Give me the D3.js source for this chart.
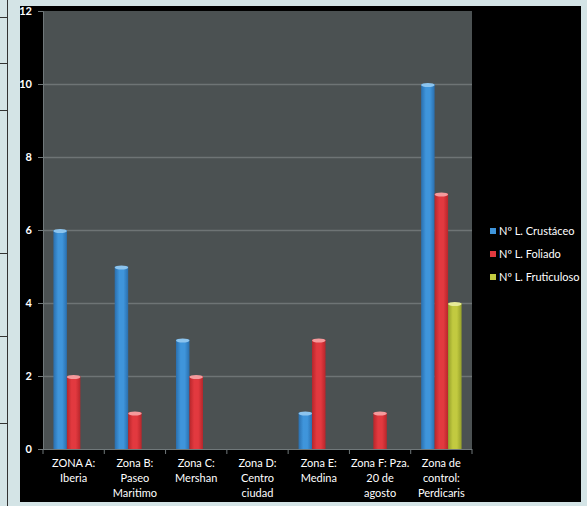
<!DOCTYPE html>
<html>
<head>
<meta charset="utf-8">
<script src="https://cdn.jsdelivr.net/npm/d3@7"></script>
<style>
  html, body { margin: 0; padding: 0; background: #d4e4e6; }
  svg { display: block; }
</style>
</head>
<body>
<script>
// chart data
let categories = ['A', 'B', 'C', 'D', 'E', 'F', 'Control']
let tickLabels = [
  ['ZONA A:', 'Iberia'],
  ['Zona B:', 'Paseo', 'Maritimo'],
  ['Zona C:', 'Mershan'],
  ['Zona D:', 'Centro', 'ciudad'],
  ['Zona E:', 'Medina'],
  ['Zona F: Pza.', '20 de', 'agosto'],
  ['Zona de', 'control:', 'Perdicaris']
]
let seriesNames = ['Nº L. Crustáceo', 'Nº L. Foliado', 'Nº L. Fruticuloso']
let crustaceo = [6, 5, 3, 0, 1, 0, 10]
let foliado = [2, 1, 2, 0, 3, 1, 7]
let fruticuloso = [0, 0, 0, 0, 0, 0, 4]
let yTicks = [0, 2, 4, 6, 8, 10, 12]

let colors = [
  {dark: '#2a6fae', mid: '#3f95db', light: '#8cc4ee'},
  {dark: '#b7262b', mid: '#e2393f', light: '#f59a9c'},
  {dark: '#96a02a', mid: '#c2ca40', light: '#e6eb98'}
]

let width = 587
let height = 506
let plot = {left: 43, right: 472, top: 11, bottom: 449}
let font = 'Lato, "Open Sans", sans-serif'

let svg = d3.select('body')
  .append('svg')
  .attr('width', width)
  .attr('height', height)

// table border bits on the left
svg.append('line')
  .attr('x1', 7.5).attr('x2', 7.5).attr('y1', 0).attr('y2', height)
  .attr('stroke', '#333').attr('stroke-width', 1)
;[17, 63, 110, 253, 336, 423].forEach(y => {
  svg.append('line')
    .attr('x1', 0).attr('x2', 7.5).attr('y1', y + 0.5).attr('y2', y + 0.5)
    .attr('stroke', '#333')
})

// black chart frame
svg.append('rect')
  .attr('x', 20).attr('y', 6)
  .attr('width', 561).attr('height', 496)
  .attr('fill', '#000')

// plot area
svg.append('rect')
  .attr('x', plot.left).attr('y', plot.top)
  .attr('width', plot.right - plot.left).attr('height', plot.bottom - plot.top)
  .attr('fill', '#4b5152')

let scaleX = d3.scaleBand()
  .domain(categories)
  .range([plot.left, plot.right])
  .paddingInner(0.34)
  .paddingOuter(0.17)

let scaleSeries = d3.scaleBand()
  .domain(d3.range(seriesNames.length))
  .range([0, scaleX.bandwidth()])

let scaleY = d3.scaleLinear()
  .domain([0, 12])
  .range([plot.bottom, plot.top])

// gradients for cylinder look
let defs = svg.append('defs')
colors.forEach((c, i) => {
  let g = defs.append('linearGradient')
    .attr('id', 'grad' + i)
    .attr('x1', '0%').attr('x2', '100%').attr('y1', '0%').attr('y2', '0%')
  g.append('stop').attr('offset', '0%').attr('stop-color', c.dark)
  g.append('stop').attr('offset', '35%').attr('stop-color', c.mid)
  g.append('stop').attr('offset', '65%').attr('stop-color', c.mid)
  g.append('stop').attr('offset', '100%').attr('stop-color', c.dark)
})

// gridlines
svg.append('g')
  .selectAll('line')
  .data(yTicks.filter(d => d > 0 && d < 12))
  .enter()
  .append('line')
  .attr('x1', plot.left).attr('x2', plot.right)
  .attr('y1', d => scaleY(d) + 0.5).attr('y2', d => scaleY(d) + 0.5)
  .attr('stroke', '#6e7475')
  .attr('stroke-width', 1.5)

// y axis
let yAxis = svg.append('g')
  .attr('transform', 'translate(' + plot.left + ',0)')
  .call(d3.axisLeft(scaleY).tickValues(yTicks).tickSize(5).tickPadding(6))
yAxis.select('.domain').attr('stroke', '#70787a')
yAxis.selectAll('.tick line').attr('stroke', '#70787a')
yAxis.selectAll('text')
  .attr('fill', '#fff')
  .attr('font-family', font)
  .attr('font-weight', 'bold')
  .attr('font-size', '11px')

// x axis
let xAxis = svg.append('g')
  .attr('transform', 'translate(0,' + plot.bottom + ')')
xAxis.append('line')
  .attr('x1', plot.left - 5).attr('x2', plot.right)
  .attr('y1', 0.5).attr('y2', 0.5)
  .attr('stroke', '#70787a')
let step = scaleX.step()
xAxis.selectAll('.tk')
  .data(d3.range(categories.length + 1))
  .enter()
  .append('line')
  .attr('x1', i => plot.left + i * step).attr('x2', i => plot.left + i * step)
  .attr('y1', 0).attr('y2', 5)
  .attr('stroke', '#70787a')

let labels = xAxis.selectAll('text')
  .data(categories)
  .enter()
  .append('text')
  .attr('x', d => scaleX(d) + scaleX.bandwidth() / 2)
  .attr('y', 18)
  .attr('text-anchor', 'middle')
  .attr('fill', '#fff')
  .attr('font-family', font)
  .attr('font-size', '11px')
labels.selectAll('tspan')
  .data((d, i) => tickLabels[i])
  .enter()
  .append('tspan')
  .attr('x', function () { return d3.select(this.parentNode).attr('x') })
  .attr('dy', (d, i) => i === 0 ? 0 : 15)
  .text(d => d)

// bars
let series = [crustaceo, foliado, fruticuloso]
series.forEach((values, s) => {
  let g = svg.append('g')
  let bw = scaleSeries.bandwidth()
  let data = values.map((v, i) => ({cat: categories[i], value: v})).filter(d => d.value > 0)
  g.selectAll('rect')
    .data(data)
    .enter()
    .append('rect')
    .attr('x', d => scaleX(d.cat) + scaleSeries(s))
    .attr('y', d => scaleY(d.value))
    .attr('width', bw)
    .attr('height', d => scaleY(0) - scaleY(d.value))
    .attr('fill', 'url(#grad' + s + ')')
  g.selectAll('ellipse')
    .data(data)
    .enter()
    .append('ellipse')
    .attr('cx', d => scaleX(d.cat) + scaleSeries(s) + bw / 2)
    .attr('cy', d => scaleY(d.value) + 1)
    .attr('rx', bw / 2)
    .attr('ry', 2)
    .attr('fill', colors[s].light)
})

// legend
let legend = svg.append('g')
  .selectAll('g')
  .data(seriesNames)
  .enter()
  .append('g')
  .attr('transform', (d, i) => 'translate(490,' + (232 + i * 23) + ')')
legend.append('rect')
  .attr('x', 0).attr('y', -4)
  .attr('width', 6).attr('height', 6)
  .attr('fill', (d, i) => colors[i].mid)
legend.append('text')
  .attr('x', 9).attr('y', 0)
  .attr('dominant-baseline', 'middle')
  .attr('fill', '#fff')
  .attr('font-family', font)
  .attr('font-size', '11px')
  .text(d => d)
</script>
</body>
</html>
